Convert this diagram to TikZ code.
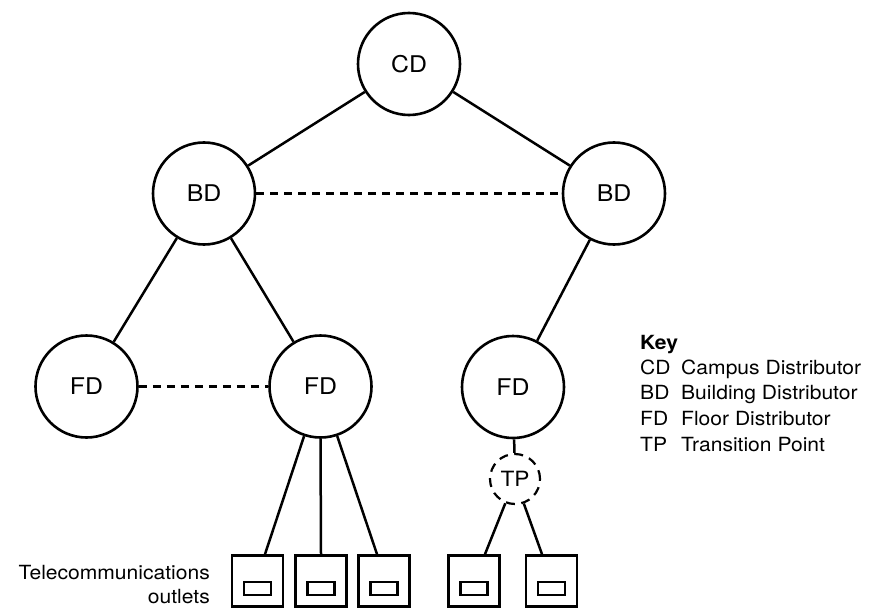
\documentclass[tikz,border=0pt]{standalone}
\usepackage{fontspec}
\setmainfont{TeX Gyre Heros}[FakeStretch=1.08]
\begin{document}
\begin{tikzpicture}[x=1pt,y=-1pt,
  dist/.style={circle,draw,line width=2.6pt,minimum size=102pt,inner sep=0pt,font=\fontsize{23}{27}\selectfont},
  tpnode/.style={circle,draw,line width=2.2pt,dash pattern=on 9pt off 6.5pt,minimum size=50pt,inner sep=0pt,font=\fontsize{21}{25}\selectfont},
  outlet/.style={rectangle,draw,line width=2.6pt,minimum width=51pt,minimum height=51pt,inner sep=0pt,
    path picture={\draw[line width=2.2pt] ([shift={(-13.5pt,-1pt)}]path picture bounding box.center) rectangle ++(27pt,-13pt);}},
  link/.style={line width=2.5pt},
  dlink/.style={line width=2.5pt,dash pattern=on 8pt off 6pt},
  keytext/.style={anchor=base west,inner sep=0pt,font=\fontsize{19.5}{25}\selectfont},
  labtext/.style={anchor=base east,inner sep=0pt,font=\fontsize{19.5}{25}\selectfont}]
\useasboundingbox (0,0) rectangle (869,607);
% distributors
\node[dist] (cd)  at (409,64)    {CD};
\node[dist] (bdl) at (204,193.5) {BD};
\node[dist] (bdr) at (614,193.5) {BD};
\node[dist] (fdl) at (86.5,386.5) {FD};
\node[dist] (fdm) at (320.5,386.5) {FD};
\node[dist] (fdr) at (513,387) {FD};
\node[tpnode] (tp) at (515,479) {TP};
% outlets
\node[outlet] (o1) at (257.5,581) {};
\node[outlet] (o2) at (321,581) {};
\node[outlet] (o3) at (384,581) {};
\node[outlet] (o4) at (474,581) {};
\node[outlet] (o5) at (551.5,581) {};
% links
\draw[link] (cd) -- (bdl);
\draw[link] (cd) -- (bdr);
\draw[link] (bdl) -- (fdl);
\draw[link] (bdl) -- (fdm);
\draw[link] (bdr) -- (fdr);
\draw[link] (fdr) -- (tp);
\draw[dlink] (bdl) -- (bdr);
\draw[dlink] (fdl) -- (fdm);
\draw[link] (fdm) -- ([xshift=7.5pt]o1.north);
\draw[link] (fdm.south) -- (o2.north);
\draw[link] (fdm) -- ([xshift=-7pt]o3.north);
\draw[link] (tp) -- ([xshift=11pt]o4.north);
\draw[link] (tp) -- ([xshift=-9.5pt]o5.north);
% labels
\node[labtext] (tel1) at (210,579) {Telecommunications};
\node[labtext] (tel2) at (210,603) {outlets};
% key
\node[keytext] (k0) at (640,349) {\textbf{Key}};
\node[keytext] (k1) at (640,374) {\makebox[41pt][l]{CD}Campus Distributor};
\node[keytext] (k2) at (640,399.5) {\makebox[41pt][l]{BD}Building Distributor};
\node[keytext] (k3) at (640,425) {\makebox[41pt][l]{FD}Floor Distributor};
\node[keytext] (k4) at (640,451) {\makebox[41pt][l]{TP}Transition Point};
\end{tikzpicture}
\end{document}
